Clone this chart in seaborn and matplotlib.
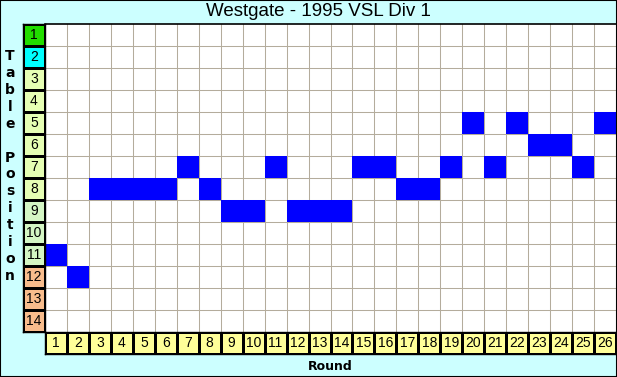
import numpy as np
import pandas as pd
import matplotlib
matplotlib.use("Agg")
import matplotlib.pyplot as plt
from matplotlib.colors import ListedColormap
import seaborn as sns

rounds = list(range(1, 27))
positions = [11, 12, 8, 8, 8, 8, 7, 8, 9, 9, 7, 9, 9, 9, 7, 7, 8, 8, 7, 5, 7, 5, 6, 6, 7, 5]
table_rows = list(range(1, 15))
row_zone = [0, 1, 2, 2, 2, 2, 2, 2, 3, 3, 3, 4, 4, 4]
zone_colors = ["#22dd00", "#00ffff", "#e6ffb4", "#d4f6c4", "#f8bc8c"]
title = "Westgate - 1995 VSL Div 1"

W, H = 617, 377
fig = plt.figure(figsize=(W / 100, H / 100), dpi=100)
fig.patch.set_facecolor("#ccffff")

def fx(px):
    return px / W

def fy(py):
    return 1 - py / H

gx0, gx1, gy0, gy1 = 45, 616, 24, 332

# main grid
mat = pd.DataFrame(0, index=table_rows, columns=rounds)
for r, p in zip(rounds, positions):
    mat.loc[p, r] = 1
ax = fig.add_axes([fx(gx0), fy(gy1), fx(gx1 - gx0), (gy1 - gy0) / H])
ax.set_facecolor("white")
sns.heatmap(mat, ax=ax, mask=(mat == 0), cmap=ListedColormap(["#0000ff"]), cbar=False,
            vmin=0, vmax=1)
for i in range(1, len(rounds)):
    ax.axvline(i, color="#b4ac9c", lw=0.75, zorder=0.5)
for j in range(1, len(table_rows)):
    ax.axhline(j, color="#b4ac9c", lw=0.75, zorder=0.5)
ax.set_xticks([]); ax.set_yticks([])
ax.set_xlabel(""); ax.set_ylabel("")
ax.spines["top"].set_visible(True)
ax.spines["top"].set_color("black")
ax.spines["top"].set_linewidth(1.2)

# left label column
lab = pd.DataFrame({"z": row_zone}, index=table_rows)
axl = fig.add_axes([fx(23), fy(gy1), fx(gx0 - 23), (gy1 - gy0) / H])
sns.heatmap(lab, ax=axl, cmap=ListedColormap(zone_colors), cbar=False, vmin=-0.5, vmax=4.5,
            annot=np.array(table_rows).reshape(-1, 1), fmt="d",
            annot_kws={"color": "black", "fontsize": 10, "family": "Liberation Sans"},
            linewidths=0.75, linecolor="black")
axl.set_xticks([]); axl.set_yticks([]); axl.set_xlabel(""); axl.set_ylabel("")
for s in axl.spines.values():
    s.set_visible(True); s.set_color("black"); s.set_linewidth(1.0)

# bottom label row
bot = pd.DataFrame([np.zeros(len(rounds))], columns=rounds)
axb = fig.add_axes([fx(gx0), fy(354), fx(gx1 - gx0), 22 / H])
sns.heatmap(bot, ax=axb, cmap=ListedColormap(["#ffff99"]), cbar=False,
            annot=np.array(rounds).reshape(1, -1), fmt="d",
            annot_kws={"color": "black", "fontsize": 10, "family": "Liberation Sans"},
            linewidths=0.75, linecolor="black")
axb.set_xticks([]); axb.set_yticks([]); axb.set_xlabel(""); axb.set_ylabel("")
for s in axb.spines.values():
    s.set_visible(True); s.set_color("black"); s.set_linewidth(1.0)

# texts
fig.text(fx(318), fy(12), title, ha="center", va="center", fontsize=13.5,
         family="Liberation Sans", color="black")
fig.text(fx(330), fy(366), "Round", ha="center", va="center", fontsize=9,
         fontweight="bold", family="DejaVu Sans", color="black")
label = "Table Position"
ys = np.linspace(56, 276, len(label))
for ch, yy in zip(label, ys):
    if ch != " ":
        fig.text(fx(10), fy(yy), ch, ha="center", va="center", fontsize=10,
                 fontweight="bold", family="DejaVu Sans", color="black")

# figure border
border = plt.Rectangle((0, 0), 1, 1, transform=fig.transFigure, fill=False,
                       edgecolor="black", linewidth=1.5)
fig.patches.append(border)

fig.savefig("out.png", dpi=100, facecolor=fig.get_facecolor())
